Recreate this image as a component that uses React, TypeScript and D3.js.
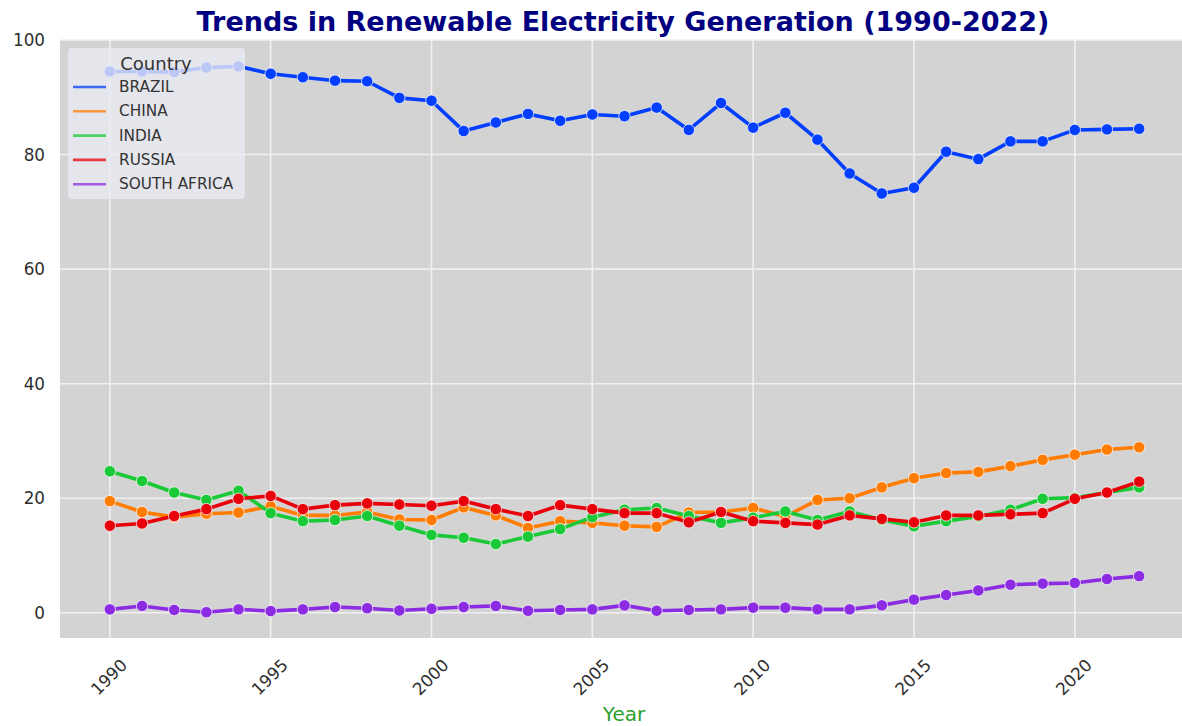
import React from 'react';
import * as d3 from 'd3';

const years = [
  1990, 1991, 1992, 1993, 1994, 1995, 1996, 1997, 1998, 1999,
  2000, 2001, 2002, 2003, 2004, 2005, 2006, 2007, 2008, 2009,
  2010, 2011, 2012, 2013, 2014, 2015, 2016, 2017, 2018, 2019,
  2020, 2021, 2022,
];

const countries = ['BRAZIL', 'CHINA', 'INDIA', 'RUSSIA', 'SOUTH AFRICA'];

const brazil = [
  94.5, 94.5, 94.4, 95.2, 95.4, 94.1, 93.5, 92.9, 92.8, 89.9,
  89.4, 84.1, 85.6, 87.1, 85.9, 87.0, 86.7, 88.2, 84.3, 89.0,
  84.7, 87.3, 82.6, 76.7, 73.2, 74.2, 80.5, 79.2, 82.3, 82.3,
  84.3, 84.4, 84.5,
];
const china = [
  19.5, 17.6, 16.7, 17.3, 17.5, 18.6, 17.0, 17.0, 17.6, 16.3,
  16.2, 18.4, 17.0, 14.8, 16.0, 15.7, 15.2, 15.0, 17.5, 17.6,
  18.3, 16.8, 19.7, 20.0, 21.9, 23.5, 24.4, 24.6, 25.6, 26.7,
  27.6, 28.5, 28.9,
];
const india = [
  24.7, 23.0, 21.0, 19.7, 21.3, 17.4, 16.0, 16.2, 16.9, 15.2,
  13.6, 13.1, 12.0, 13.3, 14.6, 16.7, 18.0, 18.3, 16.9, 15.7,
  16.6, 17.7, 16.2, 17.7, 16.2, 15.1, 16.0, 16.8, 18.0, 19.9,
  20.1, 21.0, 21.9,
];
const russia = [
  15.2, 15.6, 16.9, 18.1, 19.9, 20.4, 18.1, 18.8, 19.1, 18.9,
  18.7, 19.5, 18.1, 16.9, 18.8, 18.1, 17.4, 17.4, 15.8, 17.6,
  16.0, 15.7, 15.4, 17.0, 16.4, 15.8, 17.0, 17.0, 17.2, 17.4,
  19.9, 21.0, 22.9,
];
const southAfrica = [
  0.6, 1.2, 0.5, 0.1, 0.6, 0.3, 0.6, 1.0, 0.8, 0.4,
  0.7, 1.0, 1.2, 0.35, 0.5, 0.6, 1.3, 0.35, 0.5, 0.6,
  0.9, 0.9, 0.6, 0.6, 1.3, 2.3, 3.1, 3.9, 4.9, 5.1,
  5.2, 5.9, 6.4,
];

const seriesValues = [brazil, china, india, russia, southAfrica];
const palette = ['#023eff', '#ff7c00', '#1ac938', '#e8000b', '#8b2be2'];

const xTicks = [1990, 1995, 2000, 2005, 2010, 2015, 2020];
const yTicks = [0, 20, 40, 60, 80, 100];

const W = 1182;
const H = 726;
const plot = { left: 60, right: 1189, top: 40, bottom: 638 };
const font = '"DejaVu Sans", sans-serif';

const App: React.FC = () => {
  const x = d3.scaleLinear().domain([1988.45, 2023.55]).range([plot.left, plot.right]);
  const y = d3.scaleLinear().domain([-4.4, 100.0]).range([plot.bottom, plot.top]);

  const line = d3
    .line<number>()
    .x((_, i) => x(years[i]))
    .y((d) => y(d));

  return (
    <svg
      width={W}
      height={H}
      style={{ position: 'fixed', left: 0, top: 0, background: '#fff' }}
      fontFamily={font}
    >
      <rect
        x={plot.left}
        y={plot.top}
        width={plot.right - plot.left}
        height={plot.bottom - plot.top}
        fill="#d3d3d3"
      />
      {/* grid */}
      {xTicks.map((t) => (
        <line key={'gx' + t} x1={x(t)} x2={x(t)} y1={plot.top} y2={plot.bottom} stroke="#f0f0f0" strokeWidth={1.6} />
      ))}
      {yTicks.map((t) => (
        <line key={'gy' + t} x1={plot.left} x2={plot.right} y1={y(t)} y2={y(t)} stroke="#f0f0f0" strokeWidth={1.6} />
      ))}

      {/* series */}
      {seriesValues.map((vals, si) => (
        <g key={countries[si]}>
          <path d={line(vals) || ''} fill="none" stroke={palette[si]} strokeWidth={3.6} strokeLinejoin="round" />
          {vals.map((v, i) => (
            <circle
              key={i}
              cx={x(years[i])}
              cy={y(v)}
              r={5.7}
              fill={palette[si]}
              stroke="#ffffff"
              strokeWidth={0.9}
              strokeOpacity={0.8}
            />
          ))}
        </g>
      ))}

      {/* y tick labels */}
      {yTicks.map((t) => (
        <text key={'ty' + t} x={45} y={y(t)} textAnchor="end" dominantBaseline="central" fontSize={16.8} fill="#2e2e2e">
          {t}
        </text>
      ))}
      {/* x tick labels */}
      {xTicks.map((t) => (
        <text
          key={'tx' + t}
          transform={`translate(${x(t) - 1},${677}) rotate(-45)`}
          textAnchor="middle"
          dominantBaseline="central"
          fontSize={16.8}
          fill="#2e2e2e"
        >
          {t}
        </text>
      ))}

      <text x={624} y={721} textAnchor="middle" fontSize={20} fill="#2ca02c">
        Year
      </text>

      <text x={623} y={31} textAnchor="middle" fontSize={27} fontWeight="bold" fill="#000080">
        Trends in Renewable Electricity Generation (1990-2022)
      </text>

      {/* legend */}
      <g>
        <rect x={68} y={48} width={177} height={151} rx={4} fill="#eaeaf2" fillOpacity={0.8} />
        <text x={156} y={70} textAnchor="middle" fontSize={18} fill="#333">
          Country
        </text>
        {countries.map((c, i) => (
          <g key={'lg' + c} transform={`translate(0,${87 + i * 24.3})`}>
            <line x1={73} x2={106} y1={0} y2={0} stroke={palette[i]} strokeWidth={2.6} strokeOpacity={0.75} />
            <text x={119} y={0} dominantBaseline="central" fontSize={15.3} fill="#333">
              {c}
            </text>
          </g>
        ))}
      </g>
    </svg>
  );
};

export default App;
